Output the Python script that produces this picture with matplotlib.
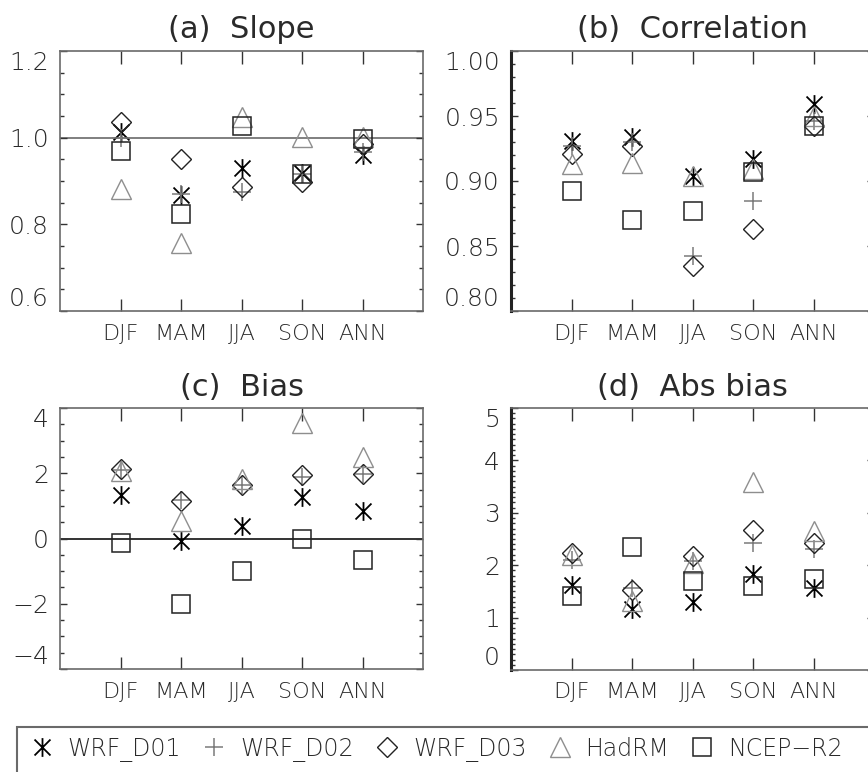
"""Seasonal verification scores for the WRF domains, HadRM and NCEP-R2."""

import matplotlib

matplotlib.use("Agg")
import matplotlib.pyplot as plt
import numpy as np
from matplotlib.path import Path
from matplotlib.patches import Rectangle
from matplotlib.ticker import FuncFormatter, MultipleLocator

seasons = ["DJF", "MAM", "JJA", "SON", "ANN"]
models = ["WRF_D01", "WRF_D02", "WRF_D03", "HadRM", "NCEP\u2212R2"]

# (a) slope
slope_d01 = [1.013, 0.867, 0.929, 0.919, 0.959]
slope_d02 = [1.000, 0.870, 0.875, 0.917, 0.967]
slope_d03 = [1.036, 0.951, 0.887, 0.898, 0.986]
slope_had = [0.882, 0.756, 1.048, 1.002, 1.002]
slope_ncep = [0.969, 0.823, 1.026, 0.916, 0.997]

# (b) correlation
corr_d01 = [0.931, 0.934, 0.904, 0.917, 0.959]
corr_d02 = [0.927, 0.930, 0.842, 0.885, 0.946]
corr_d03 = [0.921, 0.927, 0.835, 0.863, 0.942]
corr_had = [0.913, 0.914, 0.904, 0.909, 0.950]
corr_ncep = [0.892, 0.870, 0.877, 0.907, 0.942]

# (c) bias
bias_d01 = [1.33, -0.07, 0.37, 1.26, 0.83]
bias_d02 = [2.10, 1.18, 1.63, 1.90, 1.97]
bias_d03 = [2.12, 1.15, 1.63, 1.94, 1.97]
bias_had = [2.07, 0.54, 1.82, 3.55, 2.51]
bias_ncep = [-0.14, -2.02, -1.00, 0.00, -0.66]

# (d) absolute bias
abs_d01 = [1.63, 1.16, 1.29, 1.84, 1.56]
abs_d02 = [2.10, 1.56, 2.08, 2.43, 2.30]
abs_d03 = [2.24, 1.53, 2.17, 2.67, 2.42]
abs_had = [2.20, 1.31, 2.04, 3.58, 2.65]
abs_ncep = [1.42, 2.35, 1.69, 1.61, 1.74]

plt.rcParams["font.family"] = ["DejaVu Sans"]
plt.rcParams["font.weight"] = 200
TEXT = "#2a2a2a"

# IDL-style asterisk: vertical stroke plus an X
s = 0.85
asterisk = Path(
    [(0, -1), (0, 1), (-s, -s), (s, s), (-s, s), (s, -s)],
    [Path.MOVETO, Path.LINETO] * 3,
)
marker_style = [
    dict(marker=asterisk, mec="#000000", ms=13.5, mew=1.3),
    dict(marker="+", mec="#7a7a7a", ms=12.5, mew=1.1),
    dict(marker="D", mec="#222222", ms=10, mew=1.0),
    dict(marker="^", mec="#8e8e8e", ms=14, mew=1.0),
    dict(marker="s", mec="#222222", ms=13.5, mew=1.1),
]

W, H = 868, 772
fig = plt.figure(figsize=(W / 100, H / 100), dpi=100)


def px_axes(left, top, right, bottom):
    return fig.add_axes([left / W, 1 - bottom / H, (right - left) / W, (bottom - top) / H])


def draw_panel(ax, title, series, ylim, yticks, minor, fmt, heavy_left):
    x = np.arange(1, len(seasons) + 1)
    lines = []
    for vals, st in zip(series, marker_style):
        (ln,) = ax.plot(x, vals, ls="none", mfc="none", clip_on=False, **st)
        lines.append(ln)
    ax.set_xlim(0, 6)
    ax.set_ylim(*ylim)
    ax.set_xticks(x, seasons)
    ax.set_yticks(yticks)
    ax.yaxis.set_minor_locator(MultipleLocator(minor))
    ax.yaxis.set_major_formatter(
        FuncFormatter(lambda v, _: (fmt % v).replace("-", "\u2212"))
    )
    ax.tick_params(axis="x", which="major", direction="in", length=9, width=1,
                   top=True, bottom=True, pad=9, labelsize=16, colors="#333333",
                   labelcolor=TEXT)
    ax.tick_params(axis="x", which="minor", bottom=False, top=False)
    ax.tick_params(axis="y", which="major", direction="in", length=5, width=1,
                   left=True, right=True, pad=8, labelsize=18, colors="#333333",
                   labelcolor=TEXT)
    ax.tick_params(axis="y", which="minor", direction="in", length=3, width=1,
                   left=True, right=True, colors="#333333")
    for side in ("top", "right", "bottom", "left"):
        ax.spines[side].set_color("#6a6a6a")
        ax.spines[side].set_linewidth(1.2)
    if heavy_left:
        ax.spines["left"].set_color("#222222")
        ax.spines["left"].set_linewidth(2.2)
    labels = ax.get_yticklabels()
    labels[0].set_va("bottom")
    labels[-1].set_va("top")
    ax.set_title(title, fontsize=22, pad=9, color=TEXT)
    return lines


ax_a = px_axes(60, 51, 423, 311)
ax_b = px_axes(511, 51, 874, 311)
ax_c = px_axes(60, 408, 423, 669)
ax_d = px_axes(511, 408, 874, 670)

handles = draw_panel(ax_a, "(a)  Slope",
                     [slope_d01, slope_d02, slope_d03, slope_had, slope_ncep],
                     (0.6, 1.2), [0.6, 0.8, 1.0, 1.2], 0.05, "%.1f", False)
ax_a.axhline(1.0, color="#6a6a6a", lw=1.2, zorder=0)

draw_panel(ax_b, "(b)  Correlation",
           [corr_d01, corr_d02, corr_d03, corr_had, corr_ncep],
           (0.8, 1.0), [0.80, 0.85, 0.90, 0.95, 1.00], 0.01, "%.2f", True)

draw_panel(ax_c, "(c)  Bias",
           [bias_d01, bias_d02, bias_d03, bias_had, bias_ncep],
           (-4, 4), [-4, -2, 0, 2, 4], 0.5, "%d", False)
ax_c.axhline(0.0, color="#111111", lw=1.2, zorder=0)

draw_panel(ax_d, "(d)  Abs bias",
           [abs_d01, abs_d02, abs_d03, abs_had, abs_ncep],
           (0, 5), [0, 1, 2, 3, 4, 5], 0.1, "%d", True)

# legend box runs off the right and bottom edges, as in the original
fig.add_artist(Rectangle((17 / W, -0.1), 2, (H - 727) / H + 0.1,
                         transform=fig.transFigure, fill=False,
                         ec="#6a6a6a", lw=1.5))
fig.legend(handles, models, loc="center left",
           bbox_to_anchor=(30 / W, 1 - 749 / H), ncol=5, frameon=False,
           fontsize=17, handlelength=1.0, handletextpad=0.6,
           columnspacing=0.9, borderpad=0, borderaxespad=0, labelcolor=TEXT)

fig.savefig("out.png", dpi=100, facecolor="white")
